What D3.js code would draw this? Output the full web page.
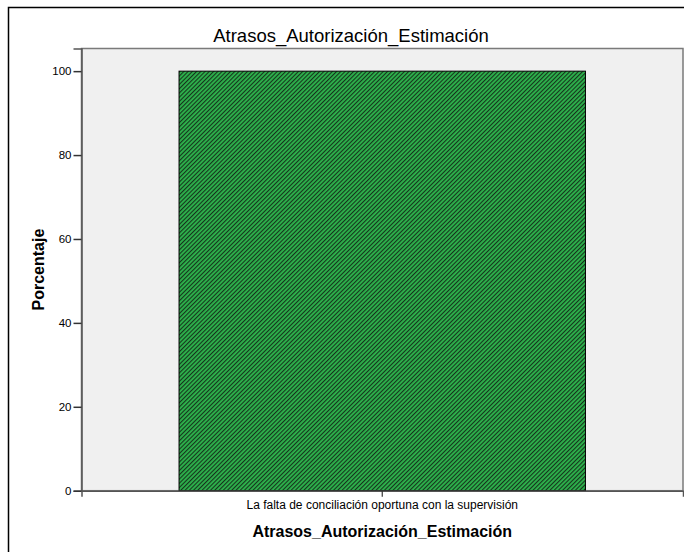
<!DOCTYPE html>
<html><head><meta charset="utf-8">
<script src="https://cdn.jsdelivr.net/npm/d3@7"></script>
<style>body{margin:0;background:#fff}svg{display:block}</style>
</head><body>
<script>
const categories = ["La falta de conciliación oportuna con la supervisión"];
const values = [100];
const yTicks = [0, 20, 40, 60, 80, 100];
const chartTitle = "Atrasos_Autorización_Estimación";
const xTitle = "Atrasos_Autorización_Estimación";
const yTitle = "Porcentaje";

const W = 684, H = 552;
const FONT = "Liberation Sans, Arial, sans-serif";
const svg = d3.select("body").append("svg").attr("width", W).attr("height", H);

const defs = svg.append("defs");
const pat = defs.append("pattern").attr("id", "hatch").attr("patternUnits", "userSpaceOnUse")
  .attr("width", 3).attr("height", 3).attr("patternTransform", "rotate(45)");
pat.append("rect").attr("width", 3).attr("height", 3).attr("fill", "#2db34c");
pat.append("rect").attr("x", 0).attr("width", 1.1).attr("height", 3).attr("fill", "#16331d");

// outer frame
svg.append("rect").attr("x", 8.5).attr("y", 7.5).attr("width", 700).attr("height", 600)
  .attr("fill", "none").attr("stroke", "#000").attr("stroke-width", 1.5);

const plot = {left: 81.5, right: 683, top: 48.5, bottom: 490.7};
const x = d3.scaleBand().domain(categories).range([plot.left, plot.right]).paddingInner(0).paddingOuter(0.24);
const y = d3.scaleLinear().domain([0, 105.4]).range([plot.bottom, plot.top]);

svg.append("rect").attr("x", plot.left).attr("y", plot.top)
  .attr("width", plot.right - plot.left).attr("height", plot.bottom - plot.top)
  .attr("fill", "#f0f0f0").attr("stroke", "#7a7a7a").attr("stroke-width", 1.5);

svg.selectAll("rect.bar").data(values).enter().append("rect").attr("class", "bar")
  .attr("x", (d, i) => x(categories[i])).attr("width", x.bandwidth())
  .attr("y", d => y(d)).attr("height", d => y(0) - y(d))
  .attr("fill", "url(#hatch)").attr("stroke", "#000").attr("stroke-width", 1);

// y axis
const ya = svg.append("g").attr("transform", `translate(${plot.left},0)`)
  .call(d3.axisLeft(y).tickValues(yTicks).tickSize(8).tickPadding(2).tickFormat(d3.format("d")));
ya.select(".domain").attr("stroke", "#555").attr("stroke-width", 1.5);
ya.selectAll(".tick line").attr("stroke", "#333").attr("stroke-width", 1.5);
ya.selectAll("text").attr("font-family", FONT).attr("font-size", 11.5).attr("fill", "#000");

// x axis
const xa = svg.append("g").attr("transform", `translate(0,${plot.bottom})`)
  .call(d3.axisBottom(x).tickSize(6).tickPadding(4));
xa.select(".domain").attr("stroke", "#555").attr("stroke-width", 1.5);
xa.selectAll(".tick line").attr("stroke", "#333").attr("stroke-width", 1.2);
xa.selectAll("text").attr("font-family", FONT).attr("font-size", 12).attr("fill", "#000");

svg.append("text").attr("x", 351).attr("y", 41.5).attr("text-anchor", "middle")
  .attr("font-family", FONT).attr("font-size", 18.5).text(chartTitle);

svg.append("text").attr("x", (plot.left + plot.right) / 2).attr("y", 537).attr("text-anchor", "middle")
  .attr("font-family", FONT).attr("font-size", 16).attr("font-weight", "bold").text(xTitle);

svg.append("text").attr("transform", `translate(43.5,${(plot.top + plot.bottom) / 2}) rotate(-90)`)
  .attr("text-anchor", "middle")
  .attr("font-family", FONT).attr("font-size", 16).attr("font-weight", "bold").text(yTitle);
</script>
</body></html>
